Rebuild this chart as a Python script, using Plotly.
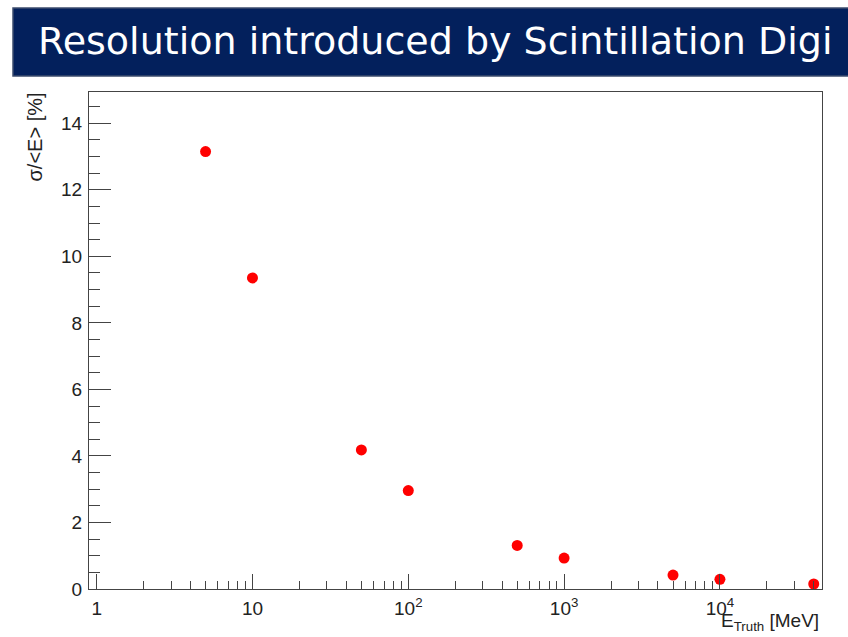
import numpy as np
import plotly.graph_objects as go

# Energy resolution from scintillation digitisation vs. true energy
energy_mev = [5, 10, 50, 100, 500, 1000, 5000, 10000, 40000]
resolution_pct = [13.15, 9.35, 4.18, 2.96, 1.31, 0.93, 0.42, 0.29, 0.15]

decade_ticks = [1, 10, 100, 1000, 10000]
decade_labels = ["1", "10", "10<sup>2</sup>", "10<sup>3</sup>", "10<sup>4</sup>"]
minor_x = [m * d for d in [1, 10, 100, 1000, 10000] for m in range(2, 10) if m * d < 46000]

title_text = "Resolution introduced by Scintillation Digi"

W, H = 848, 637
L, R, T, B = 89, 822, 92, 589
pw, ph = R - L, B - T


def px(x):
    return (x - L) / pw


def py(y):
    return (B - y) / ph


fig = go.Figure()
fig.add_trace(go.Scatter(
    x=energy_mev, y=resolution_pct, mode="markers",
    marker=dict(color="#ff0000", size=11, line=dict(width=0)),
    cliponaxis=False, showlegend=False,
))

axis_font = dict(family="Liberation Sans, Arial, sans-serif", size=19, color="#222")

fig.update_layout(
    width=W, height=H,
    margin=dict(l=L, r=W - R, t=T, b=H - B),
    paper_bgcolor="white", plot_bgcolor="white",
    xaxis=dict(
        type="log", range=[np.log10(0.893), np.log10(45200)],
        showgrid=False, zeroline=False,
        showline=True, linecolor="#444", linewidth=1, mirror=True,
        ticks="inside", ticklen=15, tickcolor="#444", tickwidth=1,
        tickmode="array", tickvals=decade_ticks, ticktext=decade_labels,
        tickfont=axis_font, ticklabelstandoff=2,
        minor=dict(ticks="inside", ticklen=8, tickcolor="#444",
                   tickmode="array", tickvals=minor_x),
    ),
    yaxis=dict(
        range=[0, 14.94],
        showgrid=False, zeroline=False,
        showline=True, linecolor="#444", linewidth=1, mirror=True,
        ticks="inside", ticklen=22, tickcolor="#444", tickwidth=1,
        tickmode="linear", tick0=0, dtick=2,
        tickfont=axis_font, ticklabelstandoff=2,
        minor=dict(ticks="inside", ticklen=11, tickcolor="#444", dtick=0.5),
    ),
    shapes=[dict(
        type="rect", xref="paper", yref="paper",
        x0=px(13), x1=px(860), y0=py(76), y1=py(8),
        fillcolor="#03205c", line=dict(color="#3d4c6e", width=1.5),
        layer="above",
    )],
    annotations=[
        dict(text=title_text, xref="paper", yref="paper",
             x=px(435), y=py(41), xanchor="center", yanchor="middle",
             showarrow=False,
             font=dict(family="DejaVu Sans, sans-serif", size=38, color="white")),
        dict(text="E<sub>Truth</sub> [MeV]", xref="paper", yref="paper",
             x=px(821), y=py(622), xanchor="right", yanchor="middle",
             showarrow=False, font=axis_font),
        dict(text="σ/<E> [%]", xref="paper", yref="paper",
             x=px(34), y=py(91), xanchor="center", yanchor="top",
             textangle=-90, showarrow=False,
             font=dict(family="Liberation Sans, Arial, sans-serif", size=20, color="#222")),
    ],
)

fig.write_html("out.html")
